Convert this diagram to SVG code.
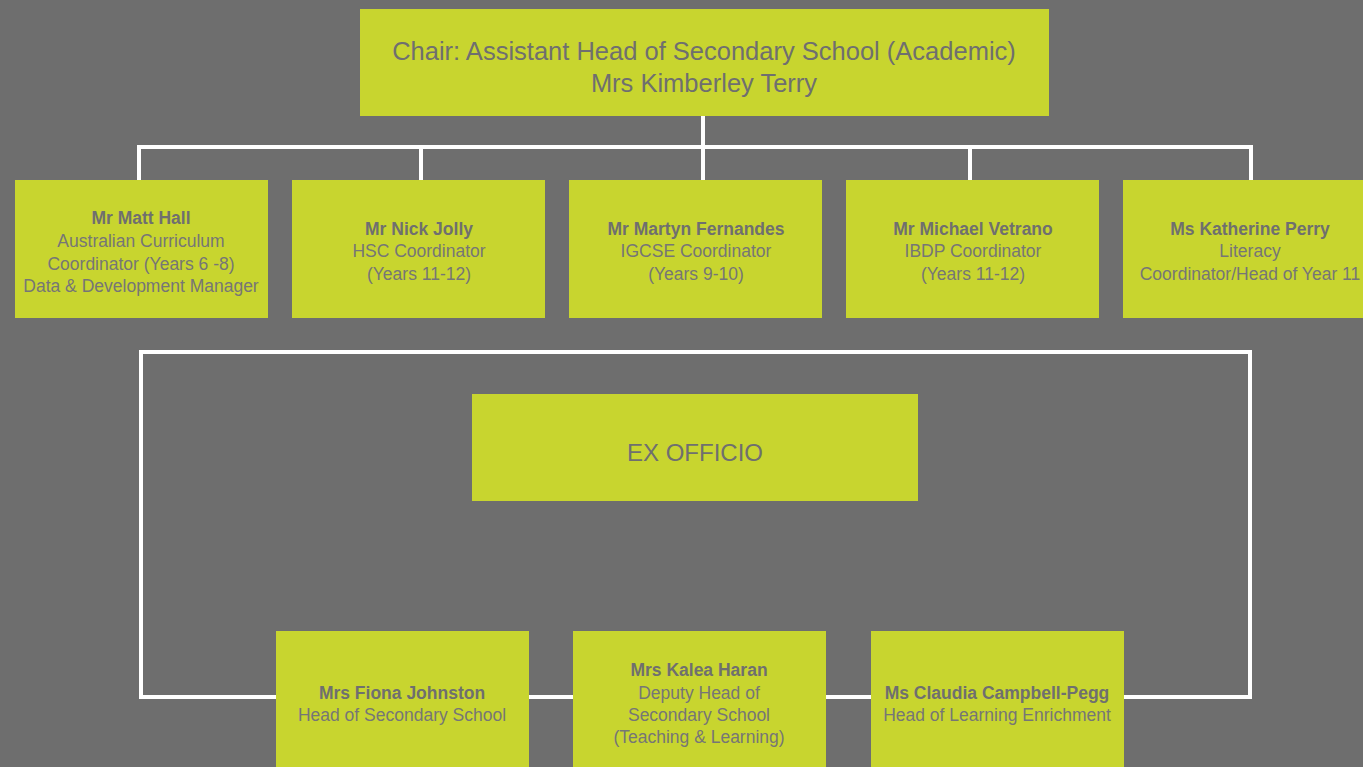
<svg xmlns="http://www.w3.org/2000/svg" width="1363" height="767" viewBox="0 0 1363 767">
  <style>
    .box { fill: #c8d52f; }
    .wire { fill: none; stroke: #ffffff; stroke-width: 4; }
    text { font-family: "Liberation Sans", Arial, sans-serif; fill: #6f6f6f; text-anchor: middle; }
    .title { font-size: 25.5px; }
    .name { font-size: 17.5px; font-weight: bold; }
    .role { font-size: 17.5px; fill: #767676; }
    .ex { font-size: 24px; }
  </style>

  <rect width="1363" height="767" fill="#6e6e6e"/>

  <!-- connectors -->
  <g id="connectors">
    <path class="wire" d="M703 116 V147 M139 180 V147 H1251 V180 M421 147 V180 M703 147 V180 M970 147 V180"/>
    <rect class="wire" x="141" y="352" width="1109" height="345"/>
  </g>

  <!-- chair -->
  <g id="chair">
    <rect class="box" x="360" y="9" width="689" height="107"/>
    <text class="title" x="704" y="60">Chair: Assistant Head of Secondary School (Academic)</text>
    <text class="title" x="704" y="92">Mrs Kimberley Terry</text>
  </g>

  <!-- coordinators -->
  <g id="matt-hall">
    <rect class="box" x="15" y="180" width="253" height="138"/>
    <text class="name" x="141" y="224">Mr Matt Hall</text>
    <text class="role" x="141" y="247">Australian Curriculum</text>
    <text class="role" x="141" y="270">Coordinator (Years 6 -8)</text>
    <text class="role" x="141" y="292">Data &amp; Development Manager</text>
  </g>
  <g id="nick-jolly">
    <rect class="box" x="292" y="180" width="253" height="138"/>
    <text class="name" x="419" y="235">Mr Nick Jolly</text>
    <text class="role" x="419" y="257">HSC Coordinator</text>
    <text class="role" x="419" y="280">(Years 11-12)</text>
  </g>
  <g id="martyn-fernandes">
    <rect class="box" x="569" y="180" width="253" height="138"/>
    <text class="name" x="696" y="235">Mr Martyn Fernandes</text>
    <text class="role" x="696" y="257">IGCSE Coordinator</text>
    <text class="role" x="696" y="280">(Years 9-10)</text>
  </g>
  <g id="michael-vetrano">
    <rect class="box" x="846" y="180" width="253" height="138"/>
    <text class="name" x="973" y="235">Mr Michael Vetrano</text>
    <text class="role" x="973" y="257">IBDP Coordinator</text>
    <text class="role" x="973" y="280">(Years 11-12)</text>
  </g>
  <g id="katherine-perry">
    <rect class="box" x="1123" y="180" width="253" height="138"/>
    <text class="name" x="1250" y="235">Ms Katherine Perry</text>
    <text class="role" x="1250" y="257">Literacy</text>
    <text class="role" x="1250" y="280">Coordinator/Head of Year 11</text>
  </g>

  <!-- ex officio -->
  <g id="ex-officio">
    <rect class="box" x="472" y="394" width="446" height="107"/>
    <text class="ex" x="695" y="461">EX OFFICIO</text>
  </g>

  <g id="fiona-johnston">
    <rect class="box" x="276" y="631" width="253" height="140"/>
    <text class="name" x="402" y="699">Mrs Fiona Johnston</text>
    <text class="role" x="402" y="721">Head of Secondary School</text>
  </g>
  <g id="kalea-haran">
    <rect class="box" x="573" y="631" width="253" height="140"/>
    <text class="name" x="699" y="676">Mrs Kalea Haran</text>
    <text class="role" x="699" y="699">Deputy Head of</text>
    <text class="role" x="699" y="721">Secondary School</text>
    <text class="role" x="699" y="743">(Teaching &amp; Learning)</text>
  </g>
  <g id="claudia-campbell-pegg">
    <rect class="box" x="871" y="631" width="253" height="140"/>
    <text class="name" x="997" y="699">Ms Claudia Campbell-Pegg</text>
    <text class="role" x="997" y="721">Head of Learning Enrichment</text>
  </g>
</svg>
